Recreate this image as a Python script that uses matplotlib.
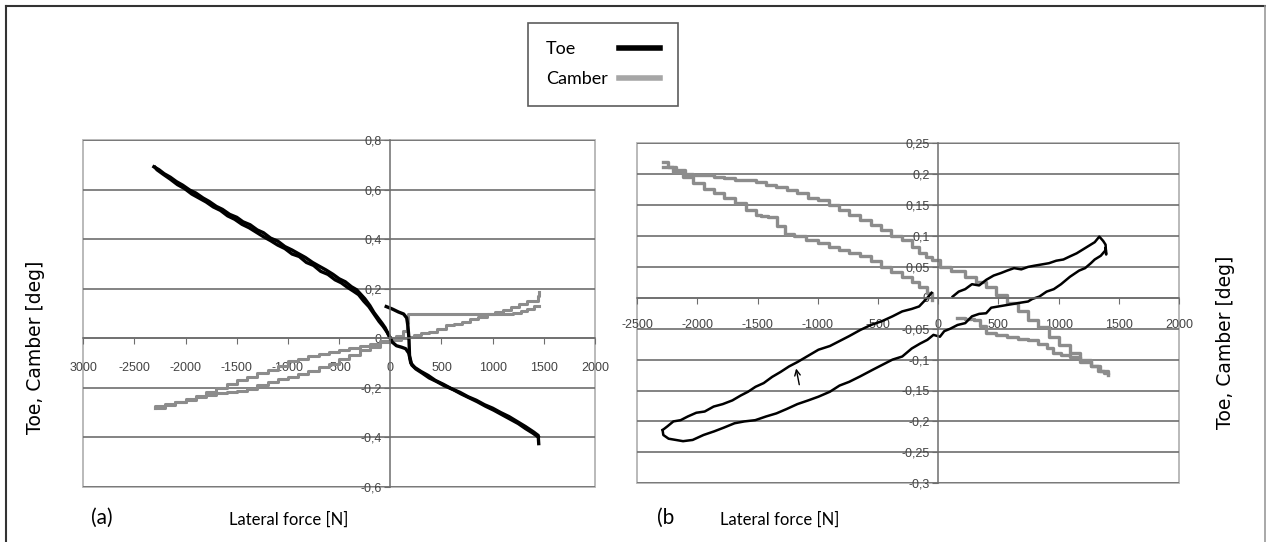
import numpy as np
import matplotlib.pyplot as plt
from matplotlib.lines import Line2D
from matplotlib.patches import Rectangle

# ---------------- panel (a) ----------------
# toe, left branch (two close strands)
a_toe1_x = [-2310, -2260, -2210, -2150, -2090, -2030, -1960, -1900, -1830, -1770, -1700, -1640,
            -1570, -1500, -1440, -1370, -1300, -1240, -1170, -1100, -1030, -960, -900, -830,
            -760, -700, -630, -560, -500, -440, -380, -330, -290, -250, -200, -160, -120, -80, -50, -20, 0]
a_toe1_y = [0.692, 0.680, 0.664, 0.650, 0.632, 0.618, 0.598, 0.586, 0.566, 0.552, 0.532, 0.520,
            0.500, 0.488, 0.470, 0.458, 0.437, 0.426, 0.404, 0.392, 0.370, 0.356, 0.342, 0.326,
            0.306, 0.292, 0.276, 0.258, 0.240, 0.228, 0.208, 0.196, 0.178, 0.160, 0.132, 0.104, 0.082, 0.060, 0.042, 0.016, 0.0]
a_toe2_x = [0, -30, -70, -110, -160, -210, -260, -310, -360, -420, -480, -540, -610, -680, -750,
            -820, -890, -960, -1030, -1100, -1170, -1240, -1310, -1380, -1450, -1520, -1590, -1660,
            -1730, -1800, -1870, -1940, -2010, -2080, -2150, -2220, -2280, -2300]
a_toe2_y = [0.0, 0.024, 0.048, 0.068, 0.098, 0.128, 0.150, 0.176, 0.190, 0.206, 0.224, 0.236, 0.258,
            0.270, 0.294, 0.306, 0.330, 0.340, 0.362, 0.376, 0.394, 0.410, 0.428, 0.446, 0.460,
            0.480, 0.494, 0.516, 0.530, 0.550, 0.566, 0.582, 0.604, 0.620, 0.642, 0.662, 0.680, 0.690]
# toe, right branch
a_toe3_x = [-40, 20, 80, 130, 160, 172, 182, 188, 200, 240, 300, 370, 440, 520, 600, 680, 760,
            840, 920, 1000, 1080, 1160, 1240, 1320, 1400, 1445, 1450]
a_toe3_y = [0.128, 0.118, 0.106, 0.098, 0.082, 0.050, 0.000, -0.075, -0.100, -0.118, -0.134, -0.150,
            -0.170, -0.186, -0.204, -0.218, -0.236, -0.250, -0.268, -0.282, -0.300, -0.316, -0.336,
            -0.356, -0.378, -0.392, -0.425]
a_toe4_x = [1445, 1390, 1320, 1250, 1170, 1090, 1010, 930, 850, 770, 690, 610, 530, 450, 380,
            310, 250, 210, 180, 150, 110, 60, 20, 0]
a_toe4_y = [-0.398, -0.382, -0.364, -0.344, -0.326, -0.308, -0.290, -0.274, -0.256, -0.240, -0.224,
            -0.206, -0.192, -0.174, -0.160, -0.140, -0.124, -0.108, -0.060, -0.042, -0.036, -0.030,
            -0.016, 0.0]
# camber
a_cam1_x = [-2300, -2200, -2100, -2000, -1900, -1800, -1700, -1600, -1500, -1400, -1300, -1200,
            -1100, -1000, -900, -800, -700, -600, -500, -400, -300, -200, -100, 0, 100, 170,
            230, 300, 380, 460, 540, 620, 700, 780, 860, 940, 1020, 1100, 1180, 1260, 1340, 1445, 1450]
a_cam1_y = [-0.280, -0.270, -0.258, -0.246, -0.232, -0.218, -0.200, -0.184, -0.170, -0.155, -0.140,
            -0.126, -0.110, -0.092, -0.082, -0.072, -0.064, -0.056, -0.046, -0.038, -0.030, -0.022,
            -0.014, -0.006, 0.000, 0.006, 0.012, 0.020, 0.024, 0.038, 0.052, 0.058, 0.066, 0.076,
            0.086, 0.096, 0.106, 0.116, 0.128, 0.140, 0.152, 0.170, 0.188]
a_cam2_x = [1450, 1400, 1340, 1280, 1200, 1000, 800, 600, 400, 250, 180, 172, 160, 120, 60, 0,
            -100, -200, -300, -400, -500, -600, -700, -800, -900, -1000, -1100, -1200, -1300,
            -1400, -1500, -1600, -1700, -1800, -1900, -2000, -2100, -2200, -2300]
a_cam2_y = [0.130, 0.118, 0.110, 0.104, 0.100, 0.100, 0.100, 0.100, 0.100, 0.100, 0.100, 0.060,
            0.030, 0.010, 0.000, -0.012, -0.034, -0.048, -0.066, -0.084, -0.104, -0.116, -0.132,
            -0.146, -0.156, -0.166, -0.178, -0.190, -0.206, -0.212, -0.216, -0.222, -0.228,
            -0.238, -0.248, -0.256, -0.264, -0.272, -0.282]

# ---------------- panel (b) ----------------
b_toe1_x = [120, 170, 224, 280, 340, 398, 460, 520, 572, 630, 690, 746, 800, 860, 920, 980, 1040,
            1094, 1150, 1200, 1250, 1300, 1338, 1370, 1390, 1395, 1390]
b_toe1_y = [0.002, 0.010, 0.014, 0.022, 0.020, 0.029, 0.036, 0.040, 0.044, 0.048, 0.046, 0.050,
            0.052, 0.054, 0.056, 0.060, 0.062, 0.067, 0.072, 0.078, 0.084, 0.090, 0.099, 0.092,
            0.086, 0.070, 0.080]
b_toe2_x = [1390, 1350, 1300, 1268, 1220, 1170, 1094, 1020, 960, 900, 840, 780, 746, 680, 620,
            560, 500, 440, 398, 340, 280, 224, 160, 100, 50, 14, -40, -90, -150, -220, -299, -380,
            -460, -540, -647, -740, -820, -900, -995, -1080, -1170, -1260, -1344, -1430, -1520,
            -1610, -1692, -1780, -1860, -1950, -2040, -2120, -2180, -2240, -2284, -2290]
b_toe2_y = [0.077, 0.068, 0.062, 0.056, 0.048, 0.044, 0.034, 0.022, 0.014, 0.010, 0.002, -0.002,
            -0.006, -0.008, -0.010, -0.012, -0.014, -0.016, -0.025, -0.026, -0.030, -0.041, -0.044,
            -0.050, -0.054, -0.063, -0.060, -0.068, -0.074, -0.082, -0.095, -0.100, -0.108, -0.116,
            -0.127, -0.136, -0.142, -0.152, -0.160, -0.166, -0.172, -0.180, -0.187, -0.192, -0.198,
            -0.200, -0.203, -0.210, -0.216, -0.222, -0.230, -0.232, -0.230, -0.228, -0.222, -0.214]
b_toe3_x = [-2290, -2250, -2200, -2140, -2080, -2010, -1940, -1866, -1790, -1710, -1640, -1580,
            -1518, -1450, -1380, -1310, -1239, -1170, -1100, -995, -900, -820, -740, -647, -560,
            -470, -380, -299, -220, -159, -100, -55]
b_toe3_y = [-0.214, -0.208, -0.200, -0.198, -0.192, -0.186, -0.184, -0.176, -0.172, -0.166, -0.158,
            -0.152, -0.144, -0.138, -0.128, -0.120, -0.111, -0.104, -0.096, -0.084, -0.078, -0.070,
            -0.062, -0.052, -0.044, -0.038, -0.030, -0.022, -0.018, -0.014, -0.002, 0.008]
b_cam1_x = [-2284, -2249, -2180, -2100, -2040, -1950, -1866, -1780, -1692, -1600, -1518, -1430,
            -1344, -1260, -1170, -1080, -995, -910, -821, -740, -647, -560, -473, -390, -299,
            -220, -159, -100, -55, 14, 110, 224, 310, 398, 480, 572, 660, 746, 830, 920, 1000,
            1094, 1180, 1268, 1330, 1373, 1408]
b_cam1_y = [0.220, 0.212, 0.206, 0.200, 0.199, 0.198, 0.196, 0.194, 0.191, 0.190, 0.188, 0.182,
            0.180, 0.174, 0.169, 0.162, 0.158, 0.150, 0.142, 0.134, 0.126, 0.118, 0.110, 0.100,
            0.094, 0.082, 0.072, 0.066, 0.061, 0.050, 0.044, 0.034, 0.026, 0.018, 0.004, -0.009,
            -0.022, -0.036, -0.048, -0.063, -0.076, -0.090, -0.100, -0.111, -0.118, -0.122, -0.125]
b_cam2_x = [-2284, -2200, -2120, -2040, -1950, -1866, -1780, -1692, -1600, -1518, -1470, -1413,
            -1340, -1274, -1200, -1100, -995, -910, -821, -740, -647, -560, -473, -390, -299,
            -220, -159, -90, -55]
b_cam2_y = [0.212, 0.204, 0.196, 0.185, 0.176, 0.169, 0.162, 0.153, 0.142, 0.134, 0.132, 0.131,
            0.116, 0.104, 0.100, 0.094, 0.088, 0.082, 0.077, 0.072, 0.067, 0.060, 0.050, 0.042,
            0.034, 0.026, 0.018, 0.007, -0.003]
b_cam3_x = [154, 220, 293, 350, 398, 480, 572, 660, 746, 830, 900, 955, 1020, 1094, 1180, 1268,
            1340, 1408]
b_cam3_y = [-0.033, -0.034, -0.036, -0.046, -0.057, -0.060, -0.063, -0.066, -0.068, -0.074,
            -0.082, -0.090, -0.093, -0.095, -0.104, -0.111, -0.118, -0.122]

# ticks
a_xticks = [-3000, -2500, -2000, -1500, -1000, -500, 0, 500, 1000, 1500, 2000]
a_xlabels = ['3000', '-2500', '-2000', '-1500', '-1000', '-500', '0', '500', '1000', '1500', '2000']
a_yticks = [0.8, 0.6, 0.4, 0.2, 0.0, -0.2, -0.4, -0.6]
a_ylabels = ['0,8', '0,6', '0,4', '0,2', '0', '-0,2', '-0,4', '-0,6']
b_xticks = [-2500, -2000, -1500, -1000, -500, 0, 500, 1000, 1500, 2000]
b_xlabels = ['-2500', '-2000', '-1500', '-1000', '-500', '0', '500', '1000', '1500', '2000']
b_yticks = [0.25, 0.2, 0.15, 0.1, 0.05, 0.0, -0.05, -0.1, -0.15, -0.2, -0.25, -0.3]
b_ylabels = ['0,25', '0,2', '0,15', '0,1', '0,05', '0', '-0,05', '-0,1', '-0,15', '-0,2', '-0,25', '-0,3']

TOE = 'black'
CAM = '#8c8c8c'
GRID = '#6e6e6e'
tickfont = ['Liberation Sans Narrow', 'Liberation Sans', 'DejaVu Sans']

W, H = 1266, 542
fig = plt.figure(figsize=(W / 100, H / 100), dpi=100)


def setup(ax, xticks, xlabels, yticks, ylabels, xpad):
    for s in ['top', 'right']:
        ax.spines[s].set_visible(False)
    ax.spines['left'].set_position(('data', 0))
    ax.spines['bottom'].set_position(('data', 0))
    ax.spines['left'].set_color(GRID)
    ax.spines['bottom'].set_color(GRID)
    ax.spines['left'].set_linewidth(1.1)
    ax.spines['bottom'].set_linewidth(1.1)
    ax.set_xticks(xticks, xlabels)
    ax.set_yticks(yticks, ylabels)
    ax.tick_params(axis='x', length=4, width=0.8, color=GRID, pad=xpad, labelsize=9, labelcolor='#444444')
    ax.tick_params(axis='y', length=4, width=0.8, color=GRID, pad=2, labelsize=9, labelcolor='#444444')
    for lab in ax.get_xticklabels() + ax.get_yticklabels():
        lab.set_family(tickfont)
    ax.yaxis.grid(True, color=GRID, lw=1.2)
    ax.set_axisbelow(True)
    ax.add_patch(Rectangle((0, 0), 1, 1, transform=ax.transAxes, fill=False,
                           ec='#b4b4b4', lw=1.3, clip_on=False, zorder=0))


# panel (a)
ax1 = fig.add_axes([83.3 / W, 1 - 487 / H, (595 - 83.3) / W, (487 - 140) / H])
ax1.set_xlim(-3000, 2000)
ax1.set_ylim(-0.6, 0.8)
setup(ax1, a_xticks, a_xlabels, a_yticks, a_ylabels, 13)
ax1.plot(a_cam1_x, a_cam1_y, color=CAM, lw=2.2, drawstyle='steps-post')
ax1.plot(a_cam2_x, a_cam2_y, color=CAM, lw=2.2, drawstyle='steps-post')
ax1.plot(a_toe1_x, a_toe1_y, color=TOE, lw=2.4)
ax1.plot(a_toe2_x, a_toe2_y, color=TOE, lw=2.4)
ax1.plot(a_toe3_x, a_toe3_y, color=TOE, lw=2.4)
ax1.plot(a_toe4_x, a_toe4_y, color=TOE, lw=2.4)
ax1.set_xlabel('Lateral force [N]', family='Lato', fontsize=12)
ax1.xaxis.set_label_coords(0.402, -0.095)
ax1.xaxis.label.set_va('center')
ax1.set_ylabel('Toe, Camber [deg]', fontsize=13.5)
ax1.yaxis.set_label_coords(-0.094, 0.403)
ax1.yaxis.label.set_va('center')

# panel (b)
ax2 = fig.add_axes([637.3 / W, 1 - 483.2 / H, (1179 - 637.3) / W, (483.2 - 143.3) / H])
ax2.set_xlim(-2500, 2000)
ax2.set_ylim(-0.3, 0.25)
setup(ax2, b_xticks, b_xlabels, b_yticks, b_ylabels, 11)
ax2.plot(b_cam1_x, b_cam1_y, color=CAM, lw=2.4, drawstyle='steps-post')
ax2.plot(b_cam2_x, b_cam2_y, color=CAM, lw=2.4, drawstyle='steps-post')
ax2.plot(b_cam3_x, b_cam3_y, color=CAM, lw=2.4, drawstyle='steps-post')
ax2.plot(b_toe1_x, b_toe1_y, color=TOE, lw=1.8)
ax2.plot(b_toe2_x, b_toe2_y, color=TOE, lw=1.8)
ax2.plot(b_toe3_x, b_toe3_y, color=TOE, lw=1.8)
ax2.annotate('', xy=(-1185, -0.110), xytext=(-1150, -0.145),
             arrowprops=dict(arrowstyle='->', color='black', lw=1))
ax2.set_xlabel('Lateral force [N]', family='Lato', fontsize=12)
ax2.xaxis.set_label_coords(0.263, -0.108)
ax2.xaxis.label.set_va('center')
ax2.set_ylabel('Toe, Camber [deg]', fontsize=13.5)
ax2.yaxis.set_label_position('right')
ax2.yaxis.set_label_coords(1.085, 0.415)
ax2.yaxis.label.set_va('center')
ax2.yaxis.label.set_rotation(90)

fig.text(102 / W, 1 - 518 / H, '(a)', family='Lato', fontsize=15, ha='center', va='center')
fig.text(666 / W, 1 - 518 / H, '(b', family='Lato', fontsize=15, ha='center', va='center')

# legend: text left, line right, both columns aligned
handles = [Line2D([], [], color='black', lw=4), Line2D([], [], color='#a6a6a6', lw=4)]
leg = fig.legend(handles, ['Toe', 'Camber'], loc='upper left',
                 bbox_to_anchor=(528 / W, 1 - 23 / H), markerfirst=False,
                 prop={'family': 'Lato', 'size': 13}, frameon=True, fancybox=False,
                 edgecolor='#333333', handlelength=2.3, handletextpad=0.6,
                 borderpad=1.0, labelspacing=0.8, borderaxespad=0)
leg.get_frame().set_linewidth(1.2)
for col in leg._legend_handle_box.get_children():
    col.align = 'left'
    for row in col.get_children():
        row.mode = 'expand'
        row.width = 114

# outer border of the scanned figure
fig.add_artist(Line2D([6 / W, 6 / W], [0, 1 - 6 / H], transform=fig.transFigure, color='#333333', lw=1.5))
fig.add_artist(Line2D([6 / W, 1], [1 - 6 / H, 1 - 6 / H], transform=fig.transFigure, color='#333333', lw=1.5))
fig.add_artist(Line2D([1265 / W, 1265 / W], [0, 1 - 6 / H], transform=fig.transFigure, color='#999999', lw=1.2))

fig.savefig('out.png', dpi=100)
